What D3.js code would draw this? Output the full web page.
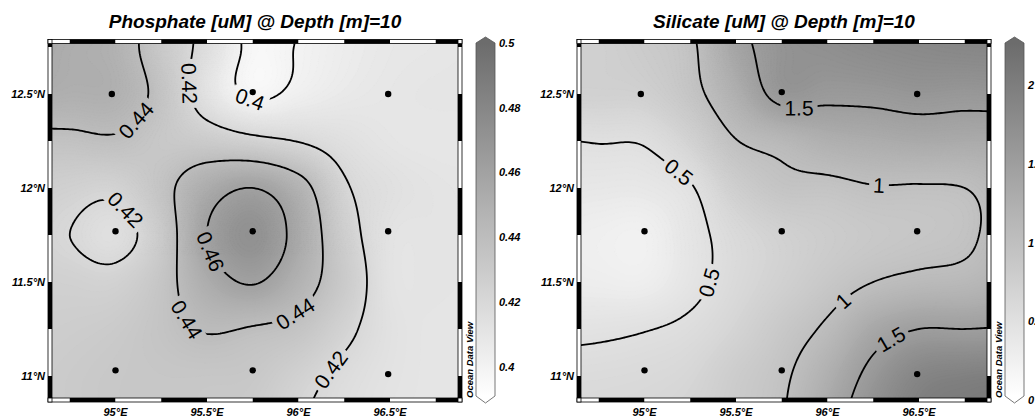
<!DOCTYPE html>
<html>
<head>
<meta charset="utf-8">
<script src="https://cdn.jsdelivr.net/npm/d3@7/dist/d3.min.js"></script>
<style>
  body { margin: 0; background: #fff; }
  text { font-family: "Liberation Sans", Arial, sans-serif; }
</style>
</head>
<body>
<svg id="chart" width="1035" height="418"></svg>
<script>
// gridded field nodes (0.25 deg spacing)
const gridLon = [94.5, 94.75, 95, 95.25, 95.5, 95.75, 96, 96.25, 96.5, 96.75, 97];
const gridLat = [13, 12.75, 12.5, 12.25, 12, 11.75, 11.5, 11.25, 11, 10.75];

const phosphateGrid = [
  [0.458, 0.455, 0.450, 0.432, 0.417, 0.396, 0.4005, 0.405, 0.408, 0.409, 0.410],
  [0.456, 0.452, 0.448, 0.431, 0.415, 0.397, 0.4005, 0.405, 0.408, 0.409, 0.410],
  [0.452, 0.450, 0.449, 0.435, 0.412, 0.398, 0.403, 0.407, 0.409, 0.410, 0.410],
  [0.436, 0.4365, 0.438, 0.432, 0.429, 0.424, 0.4195, 0.414, 0.410, 0.409, 0.409],
  [0.428, 0.425, 0.4235, 0.435, 0.452, 0.460, 0.447, 0.422, 0.414, 0.411, 0.410],
  [0.424, 0.420, 0.415, 0.430, 0.460, 0.472, 0.454, 0.427, 0.412, 0.411, 0.410],
  [0.426, 0.425, 0.4245, 0.434, 0.452, 0.461, 0.448, 0.430, 0.412, 0.411, 0.410],
  [0.427, 0.428, 0.430, 0.435, 0.441, 0.439, 0.435, 0.4235, 0.413, 0.410, 0.410],
  [0.428, 0.430, 0.432, 0.433, 0.433, 0.432, 0.425, 0.417, 0.412, 0.410, 0.410],
  [0.428, 0.430, 0.432, 0.433, 0.432, 0.430, 0.421, 0.415, 0.411, 0.410, 0.410]
];

const silicateGrid = [
  [0.74, 0.75, 0.85, 1.00, 1.42, 1.70, 1.80, 1.87, 1.90, 1.92, 1.93],
  [0.73, 0.74, 0.82, 0.95, 1.38, 1.65, 1.72, 1.78, 1.82, 1.85, 1.86],
  [0.72, 0.72, 0.74, 0.91, 1.23, 1.60, 1.57, 1.58, 1.62, 1.60, 1.62],
  [0.49, 0.51, 0.52, 0.70, 0.99, 1.10, 1.23, 1.28, 1.32, 1.31, 1.31],
  [0.40, 0.38, 0.38, 0.48, 0.76, 0.92, 0.93, 0.985, 0.98, 1.00, 1.13],
  [0.30, 0.27, 0.25, 0.42, 0.60, 0.72, 0.80, 0.86, 0.90, 0.95, 1.12],
  [0.32, 0.30, 0.29, 0.43, 0.60, 0.73, 0.87, 1.00, 1.07, 1.10, 1.20],
  [0.45, 0.46, 0.49, 0.55, 0.68, 0.86, 1.05, 1.35, 1.50, 1.50, 1.52],
  [0.57, 0.58, 0.60, 0.65, 0.80, 0.95, 1.24, 1.60, 1.88, 1.95, 1.98],
  [0.62, 0.63, 0.65, 0.70, 0.82, 0.98, 1.35, 1.72, 1.98, 2.05, 2.08]
];

// stations
const stationLon = [94.98, 95.75, 96.49, 95.0, 95.75, 96.49, 95.0, 95.75, 96.49];
const stationLat = [12.5, 12.51, 12.5, 11.77, 11.77, 11.77, 11.03, 11.03, 11.01];

// axes + colour bars
const lonTicks = [95, 95.5, 96, 96.5];
const latTicks = [11, 11.5, 12, 12.5];
const phosphateLevels = [0.4, 0.42, 0.44, 0.46];
const silicateLevels = [0.5, 1, 1.5];
const phosphateBarTicks = [0.4, 0.42, 0.44, 0.46, 0.48, 0.5];
const silicateBarTicks = [0, 0.5, 1, 1.5, 2];
const phosphateRange = [0.391, 0.5];
const silicateRange = [0.025, 2.27];

// where the contour labels sit (level, lon, lat)
const phosphateLabelLevel = [0.44, 0.42, 0.4, 0.42, 0.46, 0.44, 0.44, 0.42];
const phosphateLabelLon = [95.096, 95.374, 95.74, 95.035, 95.5, 95.997, 95.396, 96.183];
const phosphateLabelLat = [12.373, 12.553, 12.484, 11.872, 11.649, 11.309, 11.309, 11.032];
const silicateLabelLevel = [0.5, 0.5, 1, 1, 1.5, 1.5];
const silicateLabelLon = [95.2, 95.342, 96.287, 96.085, 95.839, 96.352];
const silicateLabelLat = [12.101, 11.5, 12.027, 11.404, 12.399, 11.191];

const W = 1035, H = 418;
const svg = d3.select("#chart");
const defs = svg.append("defs");

const panels = [
  {title: "Phosphate [uM] @ Depth [m]=10", grid: phosphateGrid, levels: phosphateLevels,
   range: phosphateRange, ticks: phosphateBarTicks,
   lab: [phosphateLabelLevel, phosphateLabelLon, phosphateLabelLat], ox: 0},
  {title: "Silicate [uM] @ Depth [m]=10", grid: silicateGrid, levels: silicateLevels,
   range: silicateRange, ticks: silicateBarTicks,
   lab: [silicateLabelLevel, silicateLabelLon, silicateLabelLat], ox: 529}
];

function cubic(p0, p1, p2, p3, t) {
  return p1 + 0.5 * t * (p2 - p0 + t * (2 * p0 - 5 * p1 + 4 * p2 - p3 + t * (3 * (p1 - p2) + p3 - p0)));
}

function sampleGrid(grid, lon, lat) {
  const nc = gridLon.length, nr = gridLat.length;
  const u = (lon - gridLon[0]) / (gridLon[1] - gridLon[0]);
  const v = (gridLat[0] - lat) / (gridLat[0] - gridLat[1]);
  const i = Math.max(0, Math.min(nc - 2, Math.floor(u)));
  const j = Math.max(0, Math.min(nr - 2, Math.floor(v)));
  const col = k => Math.max(0, Math.min(nc - 1, k));
  const row = k => Math.max(0, Math.min(nr - 1, k));
  const r = [-1, 0, 1, 2].map(m => {
    const g = grid[row(j + m)];
    return cubic(g[col(i - 1)], g[col(i)], g[col(i + 1)], g[col(i + 2)], u - i);
  });
  return cubic(r[0], r[1], r[2], r[3], v - j);
}

panels.forEach((p, pi) => {
  const ox = p.ox;
  const x = d3.scaleLinear().domain([95, 96.5]).range([115.5 + ox, 390 + ox]);
  const y = d3.scaleLinear().domain([11, 12.5]).range([376, 94]);
  const box = {left: 52 + ox, right: 458 + ox, top: 43.5, bottom: 398};
  const color = d3.scaleLinear().domain(p.range).range(["#ffffff", "#6c6c6c"]).clamp(true);

  defs.append("clipPath").attr("id", "clip" + pi).append("rect")
    .attr("x", box.left).attr("y", box.top)
    .attr("width", box.right - box.left).attr("height", box.bottom - box.top);

  // fine grid for shading / contours
  const step = 2, pad = 6;
  const gx0 = box.left - pad, gy0 = box.top - pad;
  const nx = Math.ceil((box.right - box.left + 2 * pad) / step) + 1;
  const ny = Math.ceil((box.bottom - box.top + 2 * pad) / step) + 1;
  const values = new Array(nx * ny);
  for (let j = 0; j < ny; j++) {
    for (let i = 0; i < nx; i++) {
      values[j * nx + i] = sampleGrid(p.grid, x.invert(gx0 + i * step), y.invert(gy0 + j * step));
    }
  }
  const toPx = (cx, cy) => [gx0 + (cx - 0.5) * step, gy0 + (cy - 0.5) * step];
  const path = d3.geoPath(d3.geoTransform({
    point(cx, cy) { const q = toPx(cx, cy); this.stream.point(q[0], q[1]); }
  }));

  const plot = svg.append("g").attr("clip-path", `url(#clip${pi})`);

  // shading
  const nb = 140, dv = (p.range[1] - p.range[0]) / nb;
  const thr = d3.range(nb).map(k => p.range[0] + k * dv);
  plot.append("rect").attr("x", box.left).attr("y", box.top)
    .attr("width", box.right - box.left).attr("height", box.bottom - box.top)
    .attr("fill", color(p.range[0]));
  plot.append("g").selectAll("path")
    .data(d3.contours().size([nx, ny]).thresholds(thr)(values))
    .join("path")
    .attr("d", path)
    .attr("fill", d => color(d.value + dv / 2))
    .attr("stroke", d => color(d.value + dv / 2))
    .attr("stroke-width", 0.4);

  // contour lines
  const lines = d3.contours().size([nx, ny]).thresholds(p.levels)(values);
  const mask = defs.append("mask").attr("id", "mask" + pi)
    .attr("maskUnits", "userSpaceOnUse")
    .attr("x", 0).attr("y", 0).attr("width", W).attr("height", H);
  mask.append("rect").attr("width", W).attr("height", H).attr("fill", "#fff");

  plot.append("g").attr("mask", `url(#mask${pi})`)
    .selectAll("path").data(lines).join("path")
    .attr("d", path)
    .attr("fill", "none")
    .attr("stroke", "#000")
    .attr("stroke-width", 1.8);

  // contour labels
  const labG = plot.append("g");
  p.lab[0].forEach((lev, k) => {
    const hx = x(p.lab[1][k]), hy = y(p.lab[2][k]);
    const c = lines.find(l => Math.abs(l.value - lev) < 1e-9);
    if (!c) return;
    let best = null;
    c.coordinates.forEach(poly => poly.forEach(ring => {
      const pts = ring.map(q => toPx(q[0], q[1]));
      pts.forEach((q, idx) => {
        const d = (q[0] - hx) ** 2 + (q[1] - hy) ** 2;
        if (!best || d < best.d) best = {d, pts, idx};
      });
    }));
    const n = best.pts.length;
    const a = best.pts[(best.idx - 4 + n) % n], b = best.pts[(best.idx + 4) % n];
    const q = best.pts[best.idx];
    let ang = Math.atan2(b[1] - a[1], b[0] - a[0]) * 180 / Math.PI;
    if (ang > 90) ang -= 180;
    if (ang <= -90) ang += 180;
    const t = labG.append("text")
      .attr("transform", `translate(${q[0]},${q[1]}) rotate(${ang})`)
      .attr("text-anchor", "middle")
      .attr("dy", "0.36em")
      .attr("font-size", 21)
      .attr("fill", "#000")
      .text(String(lev));
    const tw = t.node().getComputedTextLength();
    mask.append("rect")
      .attr("x", -tw / 2 - 4).attr("y", -9).attr("width", tw + 8).attr("height", 18)
      .attr("transform", `translate(${q[0]},${q[1]}) rotate(${ang})`)
      .attr("fill", "#000");
  });

  // stations
  plot.append("g").selectAll("circle").data(stationLon).join("circle")
    .attr("cx", (d, i) => x(stationLon[i]))
    .attr("cy", (d, i) => y(stationLat[i]))
    .attr("r", 3.2)
    .attr("fill", "#000");

  // ODV style frame
  const bw = 4;
  const fr = svg.append("g");
  const lonB = [box.left, ...d3.range(94.75, 97, 0.25).map(x).filter(v => v > box.left + 0.5 && v < box.right - 0.5), box.right];
  const latB = [box.bottom, ...d3.range(11, 13, 0.25).map(y).filter(v => v < box.bottom - 0.5 && v > box.top + 0.5), box.top];
  d3.pairs(lonB).forEach(([a, b]) => {
    const k = Math.floor((x.invert((a + b) / 2) - 95) / 0.25);
    const fill = Math.abs(k) % 2 === 1 ? "#000" : "#fff";
    fr.append("rect").attr("x", a).attr("y", box.top - bw).attr("width", b - a).attr("height", bw).attr("fill", fill);
    fr.append("rect").attr("x", a).attr("y", box.bottom).attr("width", b - a).attr("height", bw).attr("fill", fill);
  });
  d3.pairs(latB).forEach(([a, b]) => {
    const k = Math.floor((y.invert((a + b) / 2) - 11) / 0.25);
    const fill = Math.abs(k) % 2 === 1 ? "#000" : "#fff";
    fr.append("rect").attr("x", box.left - bw).attr("y", b).attr("width", bw).attr("height", a - b).attr("fill", fill);
    fr.append("rect").attr("x", box.right).attr("y", b).attr("width", bw).attr("height", a - b).attr("fill", fill);
  });
  fr.append("rect").attr("x", box.left - bw).attr("y", box.top - bw)
    .attr("width", box.right - box.left + 2 * bw).attr("height", box.bottom - box.top + 2 * bw)
    .attr("fill", "none").attr("stroke", "#000").attr("stroke-width", 0.8);
  fr.append("rect").attr("x", box.left).attr("y", box.top)
    .attr("width", box.right - box.left).attr("height", box.bottom - box.top)
    .attr("fill", "none").attr("stroke", "#000").attr("stroke-width", 0.8);
  [[box.left - bw, box.top - bw], [box.right, box.top - bw], [box.left - bw, box.bottom], [box.right, box.bottom]]
    .forEach(c => fr.append("rect").attr("x", c[0]).attr("y", c[1]).attr("width", bw).attr("height", bw)
      .attr("fill", "#fff").attr("stroke", "#000").attr("stroke-width", 0.8));

  // axis labels
  svg.append("g").selectAll("text").data(lonTicks).join("text")
    .attr("x", d => x(d)).attr("y", 416)
    .attr("text-anchor", "middle").attr("font-size", 11).attr("font-weight", "bold").attr("font-style", "italic")
    .text(d => d + "°E");
  svg.append("g").selectAll("text").data(latTicks).join("text")
    .attr("x", box.left - bw - 3).attr("y", d => y(d) + 4)
    .attr("text-anchor", "end").attr("font-size", 11).attr("font-weight", "bold").attr("font-style", "italic")
    .text(d => d + "°N");

  // title
  svg.append("text")
    .attr("x", (box.left + box.right) / 2).attr("y", 28)
    .attr("text-anchor", "middle").attr("font-size", 19).attr("font-weight", "bold").attr("font-style", "italic")
    .text(p.title);

  // colour bar
  const cb = d3.scaleLinear().domain(p.range).range([396, 43]);
  const cx0 = 476 + ox, cx1 = 495 + ox, cxm = (cx0 + cx1) / 2;
  const grad = defs.append("linearGradient").attr("id", "grad" + pi)
    .attr("gradientUnits", "userSpaceOnUse")
    .attr("x1", 0).attr("y1", cb.range()[0]).attr("x2", 0).attr("y2", cb.range()[1]);
  d3.range(11).forEach(k => grad.append("stop")
    .attr("offset", k / 10)
    .attr("stop-color", color(p.range[0] + (p.range[1] - p.range[0]) * k / 10)));
  svg.append("path")
    .attr("d", `M${cx0},43 L${cxm},37 L${cx1},43 L${cx1},396 L${cxm},403 L${cx0},396 Z`)
    .attr("fill", `url(#grad${pi})`)
    .attr("stroke", "#555").attr("stroke-width", 0.8);
  svg.append("g").selectAll("text").data(p.ticks).join("text")
    .attr("x", cx1 + 4).attr("y", d => cb(d)).attr("dy", "0.35em")
    .attr("font-size", 11).attr("font-weight", "bold").attr("font-style", "italic")
    .text(d => String(d));

  svg.append("text")
    .attr("transform", `translate(${473 + ox},398) rotate(-90)`)
    .attr("font-size", 9.5).attr("font-weight", "bold").attr("font-style", "italic")
    .text("Ocean Data View");
});
</script>
</body>
</html>
